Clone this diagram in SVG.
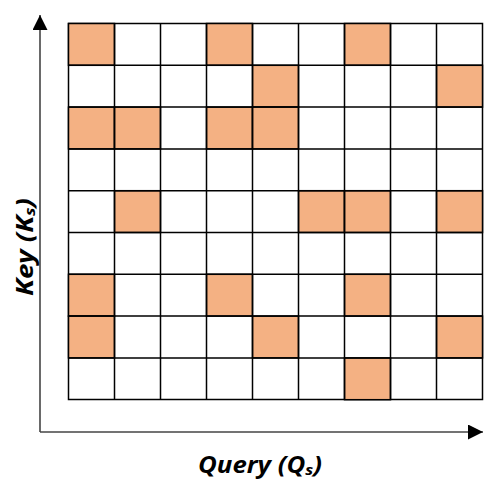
<svg xmlns="http://www.w3.org/2000/svg" width="492" height="486" viewBox="0 0 492 486">
<style>
.c{fill:#fff;stroke:#000;stroke-width:1.5}
.o{fill:#F4B183;stroke:#000;stroke-width:1.5}
.ax{stroke:#444;stroke-width:1.6;fill:none}
.lbl{font-family:"Open Sans","Liberation Sans",sans-serif;font-weight:bold;font-style:italic;font-size:23px;fill:#000}
</style>
<defs>
<marker id="ah" viewBox="0 0 10 10" refX="10" refY="5" markerWidth="15" markerHeight="15" markerUnits="userSpaceOnUse" orient="auto">
<path d="M0,0 L10,5 L0,10 Z" fill="#000"/>
</marker>
</defs>
<rect width="492" height="486" fill="#fff"/>
<g id="grid">
<rect class="c" x="68.5" y="23.5" width="414" height="376"/>
<rect class="o" x="68.5" y="23.5" width="46" height="41.8"/>
<rect class="o" x="206.5" y="23.5" width="46" height="41.8"/>
<rect class="o" x="344.5" y="23.5" width="46" height="41.8"/>
<rect class="o" x="252.5" y="65.3" width="46" height="41.8"/>
<rect class="o" x="436.5" y="65.3" width="46" height="41.8"/>
<rect class="o" x="68.5" y="107.1" width="46" height="41.8"/>
<rect class="o" x="114.5" y="107.1" width="46" height="41.8"/>
<rect class="o" x="206.5" y="107.1" width="46" height="41.8"/>
<rect class="o" x="252.5" y="107.1" width="46" height="41.8"/>
<rect class="o" x="114.5" y="190.7" width="46" height="41.8"/>
<rect class="o" x="298.5" y="190.7" width="46" height="41.8"/>
<rect class="o" x="344.5" y="190.7" width="46" height="41.8"/>
<rect class="o" x="436.5" y="190.7" width="46" height="41.8"/>
<rect class="o" x="68.5" y="274.3" width="46" height="41.8"/>
<rect class="o" x="206.5" y="274.3" width="46" height="41.8"/>
<rect class="o" x="344.5" y="274.3" width="46" height="41.8"/>
<rect class="o" x="68.5" y="316.1" width="46" height="41.8"/>
<rect class="o" x="252.5" y="316.1" width="46" height="41.8"/>
<rect class="o" x="436.5" y="316.1" width="46" height="41.8"/>
<rect class="o" x="344.5" y="357.9" width="46" height="41.8"/>
<path d="M114.5,23.5V399.5M160.5,23.5V399.5M206.5,23.5V399.5M252.5,23.5V399.5M298.5,23.5V399.5M344.5,23.5V399.5M390.5,23.5V399.5M436.5,23.5V399.5M68.5,65.3H482.5M68.5,107.1H482.5M68.5,148.9H482.5M68.5,190.7H482.5M68.5,232.5H482.5M68.5,274.3H482.5M68.5,316.1H482.5M68.5,357.9H482.5" stroke="#000" stroke-width="1.5" fill="none"/>
</g>
<g id="axes">
<path class="ax" d="M40,432 V15" marker-end="url(#ah)"/>
<path class="ax" d="M40,432 H483" marker-end="url(#ah)"/>
</g>
<g id="labels">
<text class="lbl" x="198" y="473" textLength="124" lengthAdjust="spacingAndGlyphs">Query (Q<tspan font-size="15" dy="2">s</tspan><tspan dy="-2">)</tspan></text>
<text class="lbl" transform="translate(33,296) rotate(-90)" x="0" y="0" textLength="98" lengthAdjust="spacingAndGlyphs">Key (K<tspan font-size="15" dy="2">s</tspan><tspan dy="-2">)</tspan></text>
</g>
</svg>
